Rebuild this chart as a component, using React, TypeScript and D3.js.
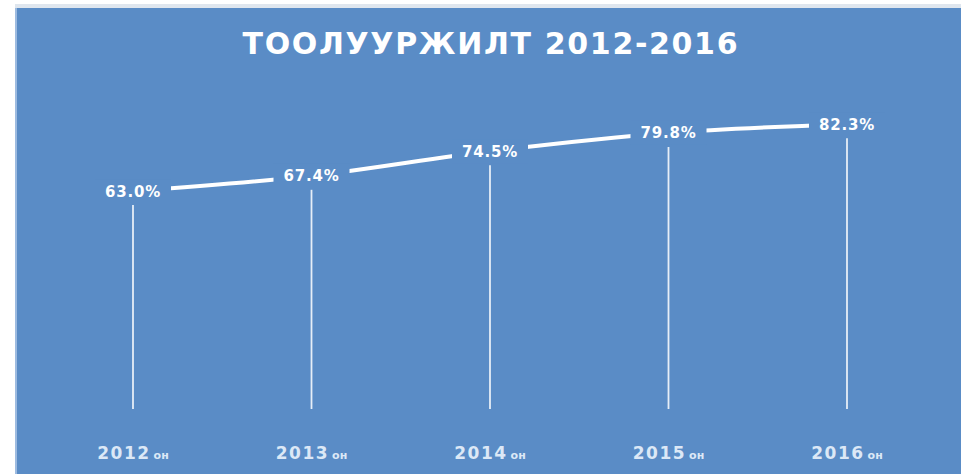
import { useEffect, useRef } from 'react';
import * as d3 from 'd3';

// data
const years = ['2012', '2013', '2014', '2015', '2016'];
const values = [63.0, 67.4, 74.5, 79.8, 82.3];
const yearSuffix = 'он';
const title = 'ТООЛУУРЖИЛТ 2012-2016';

const W = 961;
const H = 474;
const bg = '#5a8cc6';
const font = "'DejaVu Sans', Verdana, sans-serif";

export default function App() {
  const ref = useRef<SVGSVGElement | null>(null);

  useEffect(() => {
    const svg = d3.select(ref.current);
    svg.selectAll('*').remove();

    // panel
    svg.append('rect').attr('x', 0).attr('y', 0).attr('width', W).attr('height', H).attr('fill', '#ffffff');
    svg.append('rect').attr('x', 15).attr('y', 4).attr('width', W - 15).attr('height', 4).attr('fill', '#dfe6ee');
    svg.append('rect').attr('x', 15).attr('y', 8).attr('width', W - 15).attr('height', H - 8).attr('fill', bg);
    svg.append('rect').attr('x', 15).attr('y', 8).attr('width', 2).attr('height', H - 8).attr('fill', '#9dbbe0');

    const x = d3.scalePoint<string>().domain(years).range([133, 847]);
    const y = d3.scaleLinear().domain([0, 100]).range([409, 63]);

    const pts = years.map((yr, i) => ({ yr, v: values[i] }));

    // title
    svg.append('text')
      .attr('x', 490)
      .attr('y', 54)
      .attr('text-anchor', 'middle')
      .attr('fill', '#ffffff')
      .attr('font-family', font)
      .attr('font-weight', 'bold')
      .attr('font-size', 30)
      .attr('textLength', 495)
      .attr('lengthAdjust', 'spacing')
      .text(title);

    // drop lines
    svg.append('g')
      .selectAll('line')
      .data(pts)
      .enter()
      .append('line')
      .attr('x1', d => x(d.yr)!)
      .attr('x2', d => x(d.yr)!)
      .attr('y1', d => y(d.v) + 14)
      .attr('y2', y(0))
      .attr('stroke', '#ffffff')
      .attr('stroke-opacity', 0.85)
      .attr('stroke-width', 1.8);

    // main line
    const line = d3.line<{ yr: string; v: number }>()
      .x(d => x(d.yr)!)
      .y(d => y(d.v))
      .curve(d3.curveMonotoneX);

    svg.append('path')
      .datum(pts)
      .attr('d', line)
      .attr('fill', 'none')
      .attr('stroke', '#ffffff')
      .attr('stroke-width', 4)
      .attr('stroke-linecap', 'round');

    // data labels with panel-colour backing
    const lab = svg.append('g').selectAll('g').data(pts).enter().append('g')
      .attr('transform', d => `translate(${x(d.yr)}, ${y(d.v)})`);
    lab.append('rect')
      .attr('x', -38).attr('y', -12).attr('width', 76).attr('height', 24)
      .attr('fill', bg);
    lab.append('text')
      .attr('text-anchor', 'middle')
      .attr('dy', 5.5)
      .attr('fill', '#ffffff')
      .attr('font-family', font)
      .attr('font-weight', 'bold')
      .attr('font-size', 15)
      .attr('letter-spacing', 0.8)
      .text(d => `${d.v.toFixed(1)}%`);

    // category labels
    const cat = svg.append('g').selectAll('text').data(years).enter().append('text')
      .attr('x', d => x(d)!)
      .attr('y', 459)
      .attr('text-anchor', 'middle')
      .attr('fill', '#dce8f6')
      .attr('font-family', font)
      .attr('font-weight', 'bold');
    cat.append('tspan').attr('font-size', 17).attr('letter-spacing', 1.5).text(d => d);
    cat.append('tspan').attr('font-size', 11).attr('dx', 3).text(yearSuffix);
  }, []);

  return (
    <svg
      ref={ref}
      width={W}
      height={H}
      style={{ position: 'absolute', left: 0, top: 0, display: 'block' }}
    />
  );
}
